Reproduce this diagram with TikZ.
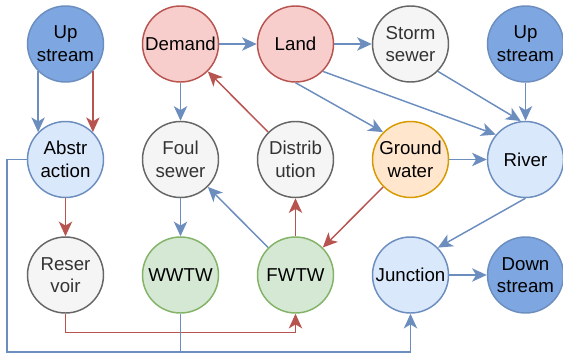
\documentclass[tikz,border=0pt]{standalone}
\usepackage{fontspec}
\setmainfont{Liberation Sans}
\usetikzlibrary{arrows.meta}
\definecolor{linkblue}{HTML}{6C8EBF}
\definecolor{linkred}{HTML}{B85450}
\definecolor{edgefill}{HTML}{7EA6E0}
\definecolor{waterfill}{HTML}{DAE8FC}
\definecolor{userfill}{HTML}{F8CECC}
\definecolor{pipefill}{HTML}{F5F5F5}
\definecolor{pipedraw}{HTML}{666666}
\definecolor{gwfill}{HTML}{FFE6CC}
\definecolor{gwdraw}{HTML}{D79B00}
\definecolor{plantfill}{HTML}{D5E8D4}
\definecolor{plantdraw}{HTML}{82B366}

\begin{document}
\begin{tikzpicture}[
    x=0.75pt, y=-0.75pt,
    unit/.style={circle, line width=1.1pt, minimum size=57pt, inner sep=0pt, align=center, font=\fontsize{14}{17}\selectfont},
    boundary/.style={unit, draw=linkblue, fill=edgefill},
    water/.style={unit, draw=linkblue, fill=waterfill},
    user/.style={unit, draw=linkred, fill=userfill},
    pipe/.style={unit, draw=pipedraw, fill=pipefill, text=black!80},
    gw/.style={unit, draw=gwdraw, fill=gwfill},
    plant/.style={unit, draw=plantdraw, fill=plantfill},
    link/.style={line width=1.1pt, draw=linkblue},
    flow/.style={link, -{Stealth[length=11pt, width=10pt, inset=3pt]}},
    supply/.style={flow, draw=linkred}
]
    \useasboundingbox (0,0) rectangle (563,353);

    % Top row
    \node[boundary] (up_left) at (65.5,44) {Up\\stream};
    \node[user] (demand) at (180.5,44) {Demand};
    \node[user] (land) at (295.5,44) {Land};
    \node[pipe] (storm) at (410.5,44) {Storm\\sewer};
    \node[boundary] (up_right) at (525.5,44) {Up\\stream};

    % Middle row
    \node[water] (abstr) at (65.5,159.5) {Abstr\\action};
    \node[pipe] (foul) at (180.5,159.5) {Foul\\sewer};
    \node[pipe] (distr) at (295.5,159.5) {Distrib\\ution};
    \node[gw] (ground) at (410.5,159.5) {Ground\\water};
    \node[water] (river) at (525.5,159.5) {River};

    % Bottom row
    \node[pipe] (reservoir) at (65.5,275) {Reser\\voir};
    \node[plant] (wwtw) at (180.5,275) {WWTW};
    \node[plant] (fwtw) at (295.5,275) {FWTW};
    \node[water] (junction) at (410.5,275) {Junction};
    \node[boundary] (down) at (525.5,275) {Down\\stream};

    % Water flows
    \draw[flow] (up_left.-135) -- (abstr.135);
    \draw[flow] (demand) -- (land);
    \draw[flow] (demand) -- (foul);
    \draw[flow] (land) -- (storm);
    \draw[flow] (land.south) -- (ground.135);
    \draw[flow] (land.-45) -- (river.140);
    \draw[flow] (storm.-45) -- (river.97);
    \draw[flow] (up_right) -- (river);
    \draw[flow] (ground) -- (river);
    \draw[flow] (foul) -- (wwtw);
    \draw[flow] (fwtw) -- (foul);
    \draw[flow] (river.south) -- (junction.45);
    \draw[flow] (junction) -- (down);

    % Supply
    \draw[supply] (up_left.-45) -- (abstr.45);
    \draw[supply] (abstr) -- (reservoir);
    \draw[supply] (distr) -- (demand);
    \draw[supply] (fwtw) -- (distr);
    \draw[supply] (ground) -- (fwtw);
    \draw[supply] (reservoir.south) -- ++(0,19) -| (fwtw.south);

    % Return to junction
    \coordinate (bus) at (7,352);
    \draw[flow] (abstr.west) -| (bus) -| (junction.south);
    \draw[link] (wwtw.south) -- (wwtw.south |- bus);
\end{tikzpicture}
\end{document}
